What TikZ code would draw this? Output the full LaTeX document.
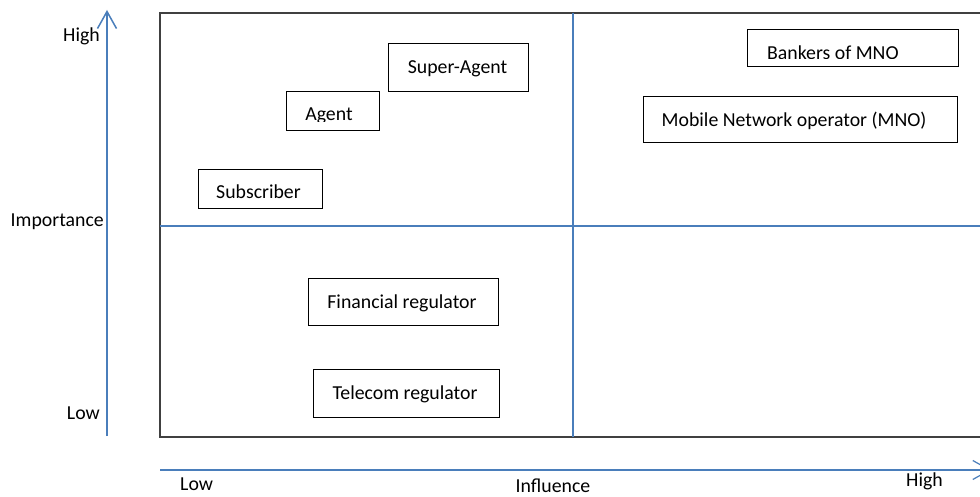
\documentclass[tikz,border=0pt]{standalone}
\usepackage{fontspec}
\setmainfont{Carlito}
\usetikzlibrary{arrows.meta}
\definecolor{axisblue}{HTML}{4A7EBB}
\definecolor{framegray}{HTML}{404040}
\tikzset{
  box/.style={draw=black, line width=1pt, rectangle, inner sep=0pt},
  lbl/.style={inner sep=0pt, font=\fontsize{19.8}{23}\selectfont, text=black},
  divider/.style={draw=axisblue, line width=2pt},
  axisline/.style={draw=axisblue, line width=1.6pt, -{Straight Barb[length=17pt, width=19pt, line width=1.5pt]}},
  axisthin/.style={draw=axisblue, line width=1.2pt, -{Straight Barb[length=17pt, width=19pt, line width=1.2pt]}}
}
\begin{document}
\begin{tikzpicture}[x=1pt,y=-1pt]
\clip (0,0) rectangle (980,497);
\fill[white] (0,0) rectangle (980,497);

% main frame
\draw[framegray, line width=1.5pt] (990,13) -- (160,13) -- (160,437) -- (990,437);

% quadrant dividers
\coordinate (vtop) at (573,13);
\coordinate (vbot) at (573,437);
\coordinate (hl) at (160,226);
\coordinate (hr) at (990,226);
\draw[divider] (vtop) -- (vbot);
\draw[divider] (hl) -- (hr);

% axes
\coordinate (yaxb) at (107,436);
\coordinate (yaxt) at (107,10);
\draw[axisline] (yaxb) -- (yaxt);
\coordinate (xaxl) at (160,470);
\coordinate (xaxr) at (991,470);
\draw[axisthin] (xaxl) -- (xaxr);

% axis labels
\node[lbl, anchor=base east] (yhigh) at (100,41.5) {High};
\node[lbl, anchor=base east] (yimp) at (104,227) {Importance};
\node[lbl, anchor=base east] (ylow) at (100,419) {Low};
\node[lbl, anchor=base west] (xlow) at (180,490) {Low};
\node[lbl, anchor=base] (xinf) at (553,492.5) {Influence};
\node[lbl, anchor=base west] (xhigh) at (906,486.5) {High};

% boxes
\node[box, minimum width=140pt, minimum height=48pt] (sa) at (458,68) {};
\node[lbl, anchor=base] (salbl) at (457.5,73.3) {Super-Agent};

\node[box, minimum width=93pt, minimum height=39pt] (ag) at (332.5,111.5) {};
\begin{scope}
  \clip (286,92) rectangle (379,122);
  \node[lbl, anchor=base] (aglbl) at (329,120.5) {Agent};
\end{scope}

\node[box, minimum width=124pt, minimum height=39pt] (sub) at (260,189.5) {};
\node[lbl, anchor=base] (sublbl) at (258.5,198.3) {Subscriber};

\node[box, minimum width=211pt, minimum height=37pt] (bk) at (852.5,48.5) {};
\begin{scope}
  \clip (747,30) rectangle (958,58.3);
  \node[lbl, anchor=base west] (bklbl) at (767,59.5) {Bankers of MNO};
\end{scope}

\node[box, minimum width=314pt, minimum height=46pt] (mno) at (800,120) {};
\node[lbl, anchor=base west] (mnolbl) at (661.5,126.5) {Mobile Network operator (MNO)};

\node[box, minimum width=190pt, minimum height=47pt] (fin) at (403,301.5) {};
\node[lbl, anchor=base] (finlbl) at (402,308.3) {Financial regulator};

\node[box, minimum width=186pt, minimum height=48pt] (tel) at (406,393) {};
\node[lbl, anchor=base] (tellbl) at (405,399.3) {Telecom regulator};
\end{tikzpicture}
\end{document}
